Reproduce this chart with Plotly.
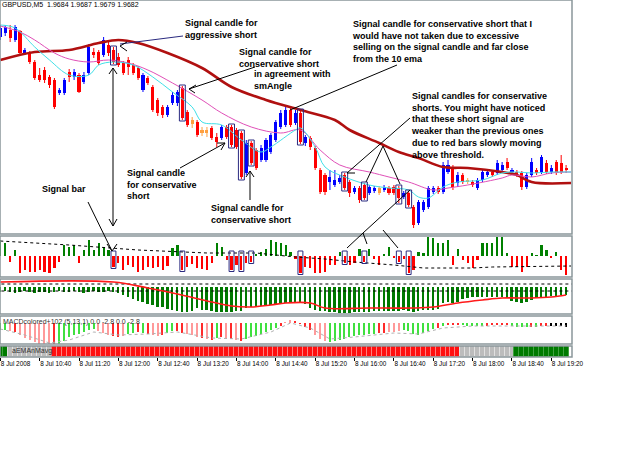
import plotly.graph_objects as go
from plotly.subplots import make_subplots

# ---------------- DATA ----------------
bars = list(range(116))
opens = [1.9815,1.9819,1.9822,1.9812,1.9821,1.9799,1.9799,1.9790,1.9777,1.9782,1.9775,1.9772,1.9759,1.9759,1.9780,1.9775,
         1.9777,1.9770,1.9779,1.9800,1.9800,1.9797,1.9807,1.9802,1.9795,1.9789,1.9792,1.9787,1.9784,1.9762,1.9774,1.9765,
         1.9752,1.9745,1.9737,1.9749,1.9749,1.9764,1.9740,1.9732,1.9730,1.9722,1.9722,1.9724,1.9715,1.9714,1.9725,1.9725,
         1.9722,1.9719,1.9679,1.9709,1.9702,1.9692,1.9692,1.9700,1.9712,1.9725,1.9727,1.9742,1.9729,1.9739,1.9709,1.9714,
         1.9704,1.9682,1.9677,1.9670,1.9667,1.9670,1.9677,1.9670,1.9660,1.9664,1.9667,1.9659,1.9661,1.9664,1.9662,1.9664,
         1.9665,1.9664,1.9655,1.9659,1.9645,1.9629,1.9642,1.9645,1.9660,1.9664,1.9660,1.9680,1.9684,1.9669,1.9677,1.9672,
         1.9670,1.9664,1.9672,1.9677,1.9680,1.9679,1.9682,1.9690,1.9680,1.9680,1.9679,1.9665,1.9677,1.9682,1.9680,1.9689,
         1.9680,1.9690,1.9689,1.9684]
highs = [1.9827,1.9827,1.9827,1.9827,1.9822,1.9804,1.9801,1.9792,1.9784,1.9785,1.9777,1.9774,1.9764,1.9774,1.9783,1.9783,
         1.9779,1.9780,1.9808,1.9804,1.9802,1.9815,1.9812,1.9805,1.9799,1.9791,1.9795,1.9789,1.9786,1.9779,1.9776,1.9767,
         1.9754,1.9747,1.9747,1.9760,1.9762,1.9766,1.9742,1.9735,1.9732,1.9725,1.9725,1.9726,1.9719,1.9727,1.9727,1.9727,
         1.9724,1.9721,1.9712,1.9711,1.9704,1.9707,1.9714,1.9719,1.9732,1.9742,1.9745,1.9745,1.9742,1.9742,1.9717,1.9716,
         1.9706,1.9684,1.9679,1.9682,1.9682,1.9677,1.9679,1.9672,1.9666,1.9666,1.9669,1.9667,1.9666,1.9666,1.9667,1.9666,
         1.9667,1.9666,1.9661,1.9661,1.9647,1.9652,1.9652,1.9666,1.9666,1.9666,1.9690,1.9692,1.9687,1.9680,1.9679,1.9674,
         1.9672,1.9674,1.9682,1.9682,1.9682,1.9692,1.9690,1.9694,1.9684,1.9682,1.9681,1.9679,1.9694,1.9684,1.9697,1.9692,
         1.9687,1.9692,1.9697,1.9687]
lows = [1.9812,1.9816,1.9810,1.9810,1.9797,1.9797,1.9788,1.9772,1.9770,1.9769,1.9764,1.9743,1.9757,1.9757,1.9770,1.9772,
        1.9759,1.9768,1.9777,1.9794,1.9787,1.9795,1.9796,1.9788,1.9785,1.9777,1.9777,1.9777,1.9772,1.9760,1.9767,1.9740,
        1.9736,1.9734,1.9735,1.9747,1.9746,1.9732,1.9725,1.9724,1.9715,1.9716,1.9715,1.9712,1.9705,1.9712,1.9713,1.9705,
        1.9703,1.9673,1.9677,1.9687,1.9682,1.9690,1.9690,1.9698,1.9710,1.9723,1.9725,1.9725,1.9727,1.9708,1.9706,1.9702,
        1.9682,1.9658,1.9657,1.9662,1.9665,1.9668,1.9662,1.9655,1.9658,1.9649,1.9652,1.9657,1.9659,1.9657,1.9660,1.9657,
        1.9657,1.9649,1.9653,1.9645,1.9624,1.9627,1.9640,1.9643,1.9658,1.9658,1.9658,1.9678,1.9662,1.9665,1.9668,1.9668,
        1.9665,1.9662,1.9670,1.9675,1.9675,1.9677,1.9680,1.9682,1.9678,1.9675,1.9662,1.9663,1.9675,1.9677,1.9678,1.9678,
        1.9678,1.9677,1.9678,1.9679]
closes = [1.9824,1.9825,1.9814,1.9825,1.9799,1.9802,1.9790,1.9774,1.9772,1.9772,1.9767,1.9745,1.9762,1.9772,1.9775,1.9780,
          1.9760,1.9777,1.9805,1.9797,1.9789,1.9812,1.9799,1.9790,1.9787,1.9779,1.9785,1.9779,1.9774,1.9777,1.9769,1.9742,
          1.9739,1.9737,1.9745,1.9757,1.9760,1.9734,1.9727,1.9728,1.9717,1.9719,1.9719,1.9714,1.9710,1.9725,1.9715,1.9707,
          1.9705,1.9675,1.9709,1.9689,1.9684,1.9704,1.9712,1.9717,1.9730,1.9739,1.9742,1.9727,1.9739,1.9710,1.9715,1.9705,
          1.9684,1.9660,1.9660,1.9675,1.9672,1.9674,1.9664,1.9659,1.9664,1.9652,1.9654,1.9665,1.9664,1.9659,1.9665,1.9659,
          1.9659,1.9654,1.9659,1.9647,1.9627,1.9650,1.9650,1.9664,1.9664,1.9660,1.9687,1.9687,1.9665,1.9677,1.9670,1.9670,
          1.9667,1.9672,1.9680,1.9680,1.9677,1.9689,1.9687,1.9684,1.9682,1.9677,1.9665,1.9677,1.9690,1.9679,1.9695,1.9680,
          1.9684,1.9680,1.9680,1.9682]
orange_bars = [39, 41, 42, 77, 95]

slow_k = [0, 7, 14, 20, 24, 28, 34, 41, 47, 54, 61, 68, 71, 77, 81, 85, 90, 95, 102, 105, 108, 116]
slow_v = [1.9792,1.9800,1.9802,1.9809,1.9812,1.9809,1.9799,1.9784,1.9765,1.9752,1.9742,1.9732,1.9722,1.9709,1.9700,
          1.9694,1.9685,1.9684,1.9680,1.9677,1.9670,1.9669]
pink_k = [0, 4, 7, 11, 14, 18, 22, 26, 30, 35, 41, 45, 51, 57, 61, 65, 69, 75, 79, 83, 88, 91, 95, 102, 104, 108, 112, 116]
pink_v = [1.9826,1.9820,1.9812,1.9799,1.9793,1.9790,1.9792,1.9789,1.9782,1.9769,1.9752,1.9739,1.9725,1.9719,1.9722,
          1.9702,1.9687,1.9680,1.9675,1.9670,1.9662,1.9664,1.9667,1.9674,1.9677,1.9675,1.9679,1.9680]
ema10_k = [0, 3, 7, 10, 14, 18, 20, 23, 27, 31, 35, 39, 41, 45, 49, 53, 55, 60, 61, 64, 66, 70, 75, 79, 83, 85, 87, 90,
           93, 98, 102, 105, 108, 112, 116]
ema10_v = [1.9827,1.9824,1.9805,1.9792,1.9777,1.9777,1.9787,1.9790,1.9787,1.9775,1.9760,1.9745,1.9730,1.9727,1.9712,
           1.9700,1.9705,1.9722,1.9724,1.9705,1.9685,1.9675,1.9667,1.9664,1.9662,1.9655,1.9654,1.9665,1.9670,1.9672,
           1.9679,1.9680,1.9679,1.9680,1.9680]

sm_angle = [16,13,-6,6,-17,-14,-16,-16,-14,-16,-17,-12,-6,11,9,11,-7,6,16,6,13,9,6,-11,-7,-14,-9,-11,-16,-14,-11,-12,
            -11,-14,-10,8,11,-14,-11,-8,-12,-13,-14,-7,13,9,-4,-14,-9,-14,-7,-6,2,4,7,16,14,13,11,4,-3,-17,-11,-12,-17,
            -17,-16,-9,-9,4,-7,-9,-7,7,-6,7,-3,-9,2,9,-2,-6,-3,-17,-14,4,3,19,18,13,13,16,-9,7,-4,-7,-12,-4,13,13,13,
            19,19,3,-11,-11,-16,-11,3,1,11,6,-2,4,-14,-19]
thr_k = [0, 14, 28, 42, 52, 60, 66, 72, 80, 86, 96, 100, 116]
thr_v = [15, 11, 6, 3, 3, -1, -3, -6, -9, -12, -12, -11, -10]

trend_hist = [-5,-4,-5,-6,-5,-4,-5,-6,-5,-5,-6,-5,-4,-5,-5,-4,-5,-6,-5,-4,-5,-5,-4,-5,-6,-8,-10,-12,-14,-15,-17,-18,
              -20,-20,-22,-23,-24,-25,-25,-24,-21,-23,-23,-24,-25,-25,-25,-25,-24,-24,-21,-20,-19,-19,-18,-18,-17,-16,
              -16,-16,-16,-16,-17,-21,-23,-24,-24,-25,-25,-26,-26,-26,-25,-25,-25,-25,-24,-24,-24,-24,-24,-24,-23,-24,
              -25,-24,-23,-23,-23,-22,-16,-15,-16,-15,-12,-11,-10,-10,-10,-10,-10,-10,-10,-11,-14,-15,-16,-15,-13,-11,
              -10,-10,-9,-9,-8,-8]
trend_sig_k = [0, 23, 30, 36, 43, 47, 51, 55, 58, 63, 66, 75, 84, 88, 93, 98, 102, 108, 112, 115]
trend_sig_v = [5, 5, -1, -7, -15, -19, -20, -18, -16, -16, -21, -21, -21, -20, -16, -13, -11, -11, -10, -8]
trend_levels = [3, -4]

macd = [-7,-7,-8,-9,-12,-15,-17,-19,-21,-22,-24,-25,-22,-18,-14,-12,-11,-9,-7,-6,-8,-10,-12,-13,-14,-13,-11,-10,-9,
        -10,-11,-12,-13,-12,-10,-8,-8,-10,-11,-12,-14,-15,-16,-17,-15,-14,-15,-16,-17,-18,-16,-14,-13,-11,-9,-7,-5,-3,
        1,3,2,-1,-4,-7,-12,-16,-18,-19,-18,-17,-16,-14,-13,-12,-12,-11,-11,-10,-10,-9,-9,-8,-7,-8,-11,-12,-10,-8,-6,
        -5,-3,-2,-2,-2,-2,-3,-3,-3,-3,-3,-2,-2,-2,-2,-3,-4,-4,-4,-4,-4,-3,-3,-3,-3,-3,-4]
macd_state = "ggprpppppppr" + "gggggggg" + "ppprrpggrgrppr" + "ggrrppprprgrprprgggggggrpprrrrppp" + \
             "ggggggggggrrppp" + "gggggggrgrrrgggggrrrrrggggrgrr"
macd_sig_k = [0, 5, 10, 14, 19, 24, 30, 36, 43, 49, 55, 59, 63, 67, 72, 80, 85, 90, 96, 105, 115]
macd_sig_v = [-6, -12, -20, -17, -9, -12, -11, -9, -15, -16, -9, 0, -5, -16, -14, -10, -11, -5, -3, -3, -3]

trend_cells = "GG" + "S" * 9 + "R" * 83 + "S" * 11 + "G" * 11

tick_bars = [0, 8, 16, 24, 32, 40, 48, 56, 64, 72, 80, 88, 96, 104, 112]
tick_labels = ["8 Jul 2008", "8 Jul 10:40", "8 Jul 11:20", "8 Jul 12:00", "8 Jul 12:40", "8 Jul 13:20",
               "8 Jul 14:00", "8 Jul 14:40", "8 Jul 15:20", "8 Jul 16:00", "8 Jul 16:40", "8 Jul 17:20",
               "8 Jul 18:00", "8 Jul 18:40", "8 Jul 19:20"]

signal_bars_main = [23, 37, 47, 49, 51, 61, 70, 74, 81, 83]
signal_bars_sub = [23, 37, 47, 49, 51, 61, 70, 74, 81, 83]

# ---------------- FIGURE ----------------
PW, PH = 572.0, 358.0
def P(x, y):
    return x / PW, (PH - y) / PH

fig = make_subplots(rows=5, cols=1, shared_xaxes=True, vertical_spacing=0.0)

col = []
for i in bars:
    if i in orange_bars:
        col.append("#ffa040")
    elif closes[i] >= opens[i]:
        col.append("#0000ff")
    else:
        col.append("#ff0000")
for c in sorted(set(col)):
    xs, ys = [], []
    for i in bars:
        if col[i] == c:
            xs += [i, i, None]
            ys += [lows[i], highs[i], None]
    fig.add_trace(go.Scatter(x=xs, y=ys, mode="lines", line=dict(color=c, width=1), hoverinfo="skip"), row=1, col=1)
body_base = [min(o, c) for o, c in zip(opens, closes)]
body_h = [max(abs(c - o), 0.00012) for o, c in zip(opens, closes)]
fig.add_trace(go.Bar(x=bars, y=body_h, base=body_base, width=0.62, marker=dict(color=col, line=dict(width=0))),
              row=1, col=1)
fig.add_trace(go.Scatter(x=slow_k, y=slow_v, mode="lines", line=dict(color="#b01010", width=2.6, shape="spline")), row=1, col=1)
fig.add_trace(go.Scatter(x=pink_k, y=pink_v, mode="lines", line=dict(color="#e050b8", width=1, shape="spline")), row=1, col=1)
fig.add_trace(go.Scatter(x=ema10_k, y=ema10_v, mode="lines", line=dict(color="#40e0e8", width=1, shape="spline")), row=1, col=1)

fig.add_trace(go.Bar(x=bars, y=sm_angle, width=0.45,
                     marker=dict(color=["#008000" if v > 0 else "#ff0000" for v in sm_angle], line=dict(width=0))),
              row=2, col=1)
fig.add_trace(go.Scatter(x=thr_k, y=thr_v, mode="lines", line=dict(color="#000000", width=1, dash="dot")), row=2, col=1)

fig.add_trace(go.Bar(x=bars, y=trend_hist, width=0.4, marker=dict(color="#007800", line=dict(width=0))), row=3, col=1)
for lv in trend_levels:
    fig.add_trace(go.Scatter(x=[-1, 117], y=[lv, lv], mode="lines", line=dict(color="#000000", width=1, dash="dot")),
                  row=3, col=1)
fig.add_trace(go.Scatter(x=trend_sig_k, y=trend_sig_v, mode="lines", line=dict(color="#ff1a1a", width=1.6, shape="spline")),
              row=3, col=1)

cmap = {"g": "#40e040", "p": "#ff9a9a", "r": "#ff2a2a"}
fig.add_trace(go.Bar(x=bars, y=macd, width=0.3, marker=dict(color=[cmap[s] for s in macd_state], line=dict(width=0))),
              row=4, col=1)
fig.add_trace(go.Scatter(x=macd_sig_k, y=macd_sig_v, mode="lines", line=dict(color="#b0b0b0", width=1, dash="dot")),
              row=4, col=1)

cell_fill = {"G": "#007a00", "S": "#bcbcbc", "R": "#ff1010"}
cell_edge = {"G": "#40a040", "S": "#e0e0e0", "R": "#ff8080"}
fig.add_trace(go.Bar(x=bars, y=[1] * len(bars), width=1.0,
                     marker=dict(color=[cell_fill[s] for s in trend_cells],
                                 line=dict(color=[cell_edge[s] for s in trend_cells], width=1))), row=5, col=1)

# ---------------- LAYOUT ----------------
doms = [(0, 234), (236, 277), (279, 314), (316, 344), (346, 357)]
ranges = [[1.9618, 1.9852], [-21, 20], [-27, 8], [-21, 7], [0, 1]]
fig.update_layout(width=625, height=469, margin=dict(l=0, r=53, t=0, b=111), showlegend=False,
                  paper_bgcolor="white", plot_bgcolor="white", bargap=0, barmode="overlay")
for i, (a, b) in enumerate(doms):
    yn = "yaxis" if i == 0 else "yaxis%d" % (i + 1)
    xn = "xaxis" if i == 0 else "xaxis%d" % (i + 1)
    fig.layout[yn].update(domain=[(PH - b) / PH, (PH - a) / PH], range=ranges[i], showgrid=False, zeroline=False,
                          showticklabels=False, fixedrange=True)
    fig.layout[xn].update(range=[-0.06, 116.2], showgrid=False, zeroline=False, showticklabels=False)
fig.layout["xaxis5"].update(showticklabels=True, tickvals=tick_bars, ticktext=tick_labels, ticks="outside",
                            ticklen=3, tickcolor="#000000", ticklabelposition="outside right", tickangle=0,
                            tickfont=dict(family="Liberation Sans", size=6.4, color="#000000"))

shapes = []
for a, b in doms:
    x0, y0 = P(0, a)
    x1, y1 = P(572, b)
    shapes.append(dict(type="rect", xref="paper", yref="paper", x0=x0, y0=y1, x1=x1, y1=y0,
                       line=dict(color="#8a979a", width=1.5)))
for k in signal_bars_main:
    shapes.append(dict(type="rect", xref="x", yref="y", x0=k - 0.6, x1=k + 0.6, y0=lows[k] - 0.0001,
                       y1=highs[k] + 0.0001, line=dict(color="#2a2a80", width=1)))
for k in signal_bars_sub:
    shapes.append(dict(type="rect", xref="x2", yref="y2", x0=k - 0.5, x1=k + 0.5, y0=sm_angle[k] - 1.5,
                       y1=5, line=dict(color="#2a2a80", width=1)))

segs = [
    ((183, 36), (120, 44), "#2a2a80"),
    ((120, 46), (127, 42), "#000"), ((120, 46), (127, 51), "#000"),
    ((255, 67), (189, 89), "#000"), ((189, 89), (196, 85), "#000"), ((189, 89), (195, 93), "#000"),
    ((397, 65), (290, 110), "#000"),
    ((180, 168), (225, 143), "#000"), ((225, 143), (217, 143), "#000"), ((225, 143), (221, 150), "#000"),
    ((250, 200), (250, 171), "#000"), ((250, 171), (246, 177), "#000"), ((250, 171), (254, 177), "#000"),
    ((88, 202), (112, 251), "#000"), ((112, 251), (107, 244), "#000"), ((112, 251), (117, 244), "#000"),
    ((113, 68), (113, 226), "#000"), ((113, 68), (109, 74), "#000"), ((113, 68), (117, 74), "#000"),
    ((113, 226), (109, 219), "#000"), ((113, 226), (117, 219), "#000"),
    ((410, 118), (347, 173), "#000"), ((347, 173), (355, 173), "#000"),
    ((383, 146), (366, 182), "#000"), ((383, 146), (400, 184), "#000"),
    ((410, 190), (363, 233), "#000"), ((363, 233), (347, 248), "#000"), ((363, 233), (367, 244), "#000"),
    ((383, 230), (398, 248), "#000"),
]
for (a, b, c) in segs:
    x0, y0 = P(*a)
    x1, y1 = P(*b)
    shapes.append(dict(type="line", xref="paper", yref="paper", x0=x0, y0=y0, x1=x1, y1=y1,
                       line=dict(color=c, width=1)))
fig.update_layout(shapes=shapes)

annots = []
def txt(s, x, ytop, size=9.0, bold=True, color="#000000"):
    px, py = P(x, ytop)
    annots.append(dict(text=("<b>%s</b>" % s) if bold else s, x=px, y=py, xref="paper", yref="paper",
                       xanchor="left", yanchor="top", showarrow=False, align="left", borderpad=0,
                       font=dict(family="Liberation Sans", size=size, color=color)))

txt("GBPUSD,M5  1.9684 1.9687 1.9679 1.9682", 1, 0, size=7, bold=False)
txt("Signal candle for<br>aggressive short", 184, 17)
txt("Signal candle for<br>conservative short", 238, 46)
txt("in agreement with<br>smAngle", 253, 68)
txt("Signal candle for conservative short that I<br>would have not taken due to excessive<br>"
    "selling on the signal candle and far close<br>from the 10 ema", 351, 18)
txt("Signal candles for conservative<br>shorts. You might have noticed<br>that these short signal are<br>"
    "weaker than the previous ones<br>due to red bars slowly moving<br>above threshold.", 410, 90)
txt("Signal candle<br>for conservative<br>short", 126, 167)
txt("Signal candle for<br>conservative short", 210, 202)
txt("Signal bar", 41, 183)
txt("MACDcolored+102 (5,13,1) 0.0 -2.8 0.0 -2.8", 2, 317, size=7, bold=False, color="#333333")
txt("aEMAnMavg", 11, 346, size=7, bold=False, color="#333333")
fig.update_layout(annotations=annots)

fig.write_html("out.html")
